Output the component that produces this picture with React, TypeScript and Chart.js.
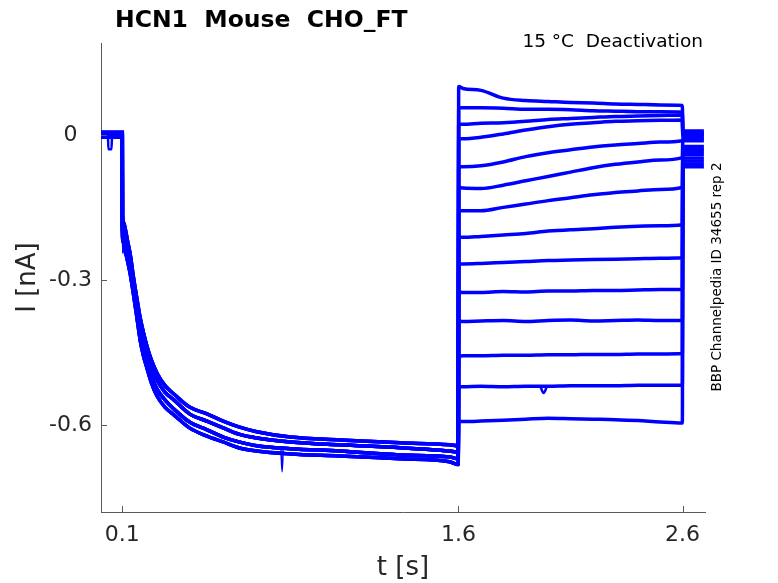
import { useEffect, useRef } from "react";
import {
  Chart,
  LineController,
  LineElement,
  PointElement,
  LinearScale,
  type ChartConfiguration,
  type Plugin,
} from "chart.js";

Chart.register(LineController, LineElement, PointElement, LinearScale);

const FONT = "'DejaVu Sans', sans-serif";
const INK = "#262626";
const AXIS = "#5a5a5a";
const BLUE = "#0000ff";

const TITLE = "HCN1  Mouse  CHO_FT";
const NOTE = "15 °C  Deactivation";
const SIDE = "BBP Channelpedia ID 34655 rep 2";

const xTicks = [0.1, 1.6, 2.6];
const yTicks = [0, -0.3, -0.6];

// holding current before the step (one value per sweep)
const holdT = [0.005, 0.1];
const holdI = [0.006, 0.004, 0.002, 0.0, -0.002, -0.004, 0.005, 0.003, 0.001, -0.001, -0.003, -0.005, 0.004, 0.0];

// activation phase, read as four curves across the band of sweeps
const actT = [0.1005, 0.106, 0.113, 0.125, 0.136, 0.15, 0.165, 0.18, 0.195, 0.21, 0.23, 0.255, 0.29, 0.33, 0.4, 0.478, 0.55, 0.62, 0.7, 0.85, 1.07, 1.34, 1.56, 1.599];
const actA = [-0.167, -0.181, -0.194, -0.223, -0.249, -0.295, -0.338, -0.379, -0.41, -0.437, -0.466, -0.493, -0.518, -0.536, -0.563, -0.577, -0.592, -0.604, -0.614, -0.625, -0.631, -0.637, -0.641, -0.643];
const actB = [-0.181, -0.194, -0.206, -0.233, -0.258, -0.303, -0.348, -0.392, -0.423, -0.449, -0.48, -0.507, -0.532, -0.548, -0.577, -0.592, -0.606, -0.619, -0.627, -0.635, -0.641, -0.647, -0.654, -0.656];
const actC = [-0.194, -0.21, -0.223, -0.249, -0.274, -0.318, -0.365, -0.41, -0.441, -0.468, -0.499, -0.526, -0.548, -0.567, -0.594, -0.61, -0.625, -0.635, -0.643, -0.649, -0.654, -0.662, -0.666, -0.67];
const actD = [-0.208, -0.223, -0.239, -0.264, -0.289, -0.33, -0.377, -0.425, -0.458, -0.482, -0.513, -0.54, -0.563, -0.579, -0.606, -0.623, -0.635, -0.647, -0.654, -0.66, -0.664, -0.67, -0.676, -0.682];
const traceAct = ["A", "B", "C", "D", "B", "C", "A", "D", "C", "B", "D", "A", "C", "B"];

// tail currents after the step at 1.6 s
const tailT = [1.601, 1.62, 1.7, 1.8, 1.9, 2.0, 2.1, 2.2, 2.3, 2.4, 2.5, 2.599];
const tail1 = [0.1, 0.096, 0.092, 0.076, 0.071, 0.069, 0.067, 0.066, 0.064, 0.063, 0.062, 0.061];
const tail2 = [0.056, 0.056, 0.056, 0.055, 0.053, 0.053, 0.052, 0.05, 0.049, 0.048, 0.048, 0.047];
const tail3 = [0.022, 0.022, 0.024, 0.025, 0.028, 0.032, 0.034, 0.036, 0.038, 0.039, 0.04, 0.041];
const tail4 = [-0.008, -0.008, -0.005, 0.002, 0.01, 0.017, 0.022, 0.025, 0.028, 0.029, 0.03, 0.031];
const tail5 = [-0.066, -0.066, -0.064, -0.056, -0.045, -0.037, -0.031, -0.025, -0.021, -0.018, -0.015, -0.012];
const tail6 = [-0.109, -0.11, -0.111, -0.104, -0.095, -0.086, -0.077, -0.068, -0.061, -0.056, -0.052, -0.047];
const tail7 = [-0.157, -0.157, -0.157, -0.15, -0.143, -0.136, -0.13, -0.124, -0.119, -0.116, -0.113, -0.109];
const tail8 = [-0.212, -0.212, -0.21, -0.207, -0.204, -0.199, -0.196, -0.194, -0.191, -0.189, -0.188, -0.186];
const tail9 = [-0.267, -0.267, -0.266, -0.264, -0.262, -0.26, -0.259, -0.258, -0.257, -0.256, -0.255, -0.254];
const tail10 = [-0.325, -0.326, -0.326, -0.324, -0.325, -0.323, -0.323, -0.322, -0.322, -0.321, -0.32, -0.32];
const tail11 = [-0.385, -0.386, -0.385, -0.384, -0.386, -0.384, -0.383, -0.385, -0.384, -0.383, -0.384, -0.384];
const tail12 = [-0.458, -0.457, -0.457, -0.456, -0.456, -0.455, -0.455, -0.454, -0.454, -0.453, -0.453, -0.452];
const tail13 = [-0.521, -0.521, -0.52, -0.521, -0.52, -0.52, -0.519, -0.519, -0.519, -0.518, -0.518, -0.518];
const tail14 = [-0.593, -0.593, -0.592, -0.59, -0.588, -0.586, -0.587, -0.588, -0.589, -0.591, -0.594, -0.596];

// back to holding after 2.6 s
const postT = [2.601, 2.695];
const postI = [0.008, 0.004, 0.0, -0.004, -0.008, -0.012, -0.024, -0.03, -0.034, -0.04, -0.048, -0.054, -0.06, -0.066];

// single glitches seen in the recording
const holdDipT = [0.036, 0.038, 0.052, 0.054];
const holdDipI = [0.0, -0.03, -0.03, 0.0];
const stepSpikeT = [0.1015, 0.103, 0.1045];
const stepSpikeI = [-0.19, -0.245, -0.2];
const actSpikeT = [0.808, 0.813, 0.818];
const actSpikeI = [-0.652, -0.697, -0.652];
const tailDipT = [1.965, 1.98, 1.995];
const tailDipI = [-0.52, -0.534, -0.52];

const acts: Record<string, number[]> = { A: actA, B: actB, C: actC, D: actD };
const tails = [tail1, tail2, tail3, tail4, tail5, tail6, tail7, tail8, tail9, tail10, tail11, tail12, tail13, tail14];

const zip = (ts: number[], vs: number[]) => ts.map((t, i) => ({ x: t, y: vs[i] }));

function sweep(k: number) {
  return [
    ...holdT.map((t) => ({ x: t, y: holdI[k] })),
    ...zip(actT, acts[traceAct[k]]),
    ...zip(tailT, tails[k]),
    ...postT.map((t) => ({ x: t, y: postI[k] })),
  ];
}

const decor: Plugin<"line"> = {
  id: "decor",
  afterDraw(chart) {
    const { ctx, chartArea: a } = chart;
    const xs = chart.scales.x;
    const ys = chart.scales.y;
    ctx.save();
    // tick marks point inward
    ctx.strokeStyle = AXIS;
    ctx.lineWidth = 1;
    ctx.beginPath();
    xTicks.forEach((v) => {
      const px = Math.round(xs.getPixelForValue(v)) + 0.5;
      ctx.moveTo(px, a.bottom);
      ctx.lineTo(px, a.bottom - 6);
    });
    yTicks.forEach((v) => {
      const py = Math.round(ys.getPixelForValue(v)) + 0.5;
      ctx.moveTo(a.left, py);
      ctx.lineTo(a.left + 6, py);
    });
    ctx.stroke();

    ctx.fillStyle = "#000";
    ctx.textBaseline = "alphabetic";
    ctx.font = `bold 23.5px ${FONT}`;
    ctx.textAlign = "left";
    ctx.fillText(TITLE, 115, 27);

    ctx.font = `18.5px ${FONT}`;
    ctx.textAlign = "right";
    ctx.fillText(NOTE, 703, 47);

    ctx.fillStyle = INK;
    ctx.font = `26px ${FONT}`;
    ctx.textAlign = "center";
    ctx.fillText("t [s]", (a.left + a.right) / 2, 575);

    ctx.save();
    ctx.translate(35, (a.top + a.bottom) / 2);
    ctx.rotate(-Math.PI / 2);
    ctx.fillText("I [nA]", 0, 0);
    ctx.restore();

    ctx.fillStyle = "#000";
    ctx.font = `13.5px ${FONT}`;
    ctx.save();
    ctx.translate(721, 277);
    ctx.rotate(-Math.PI / 2);
    ctx.fillText(SIDE, 0, 0);
    ctx.restore();

    ctx.restore();
  },
};

export default function App() {
  const canvasRef = useRef<HTMLCanvasElement>(null);
  const chartRef = useRef<Chart | null>(null);

  useEffect(() => {
    if (!canvasRef.current) return;
    const line = {
      borderColor: BLUE,
      borderWidth: 3.5,
      pointRadius: 0,
      cubicInterpolationMode: "monotone" as const,
      fill: false,
    };
    const datasets = [
      ...tails.map((_, k) => ({ ...line, data: sweep(k) })),
      { ...line, borderWidth: 2.5, data: zip(holdDipT, holdDipI) },
      { ...line, borderWidth: 2, data: zip(stepSpikeT, stepSpikeI) },
      { ...line, borderWidth: 1.5, data: zip(actSpikeT, actSpikeI) },
      { ...line, borderWidth: 2.5, data: zip(tailDipT, tailDipI) },
    ];
    const cfg: ChartConfiguration<"line"> = {
      type: "line",
      data: { datasets },
      options: {
        animation: false,
        responsive: false,
        devicePixelRatio: 1,
        layout: { padding: { top: 43, right: 73, left: 0, bottom: 0 } },
        plugins: { legend: { display: false }, tooltip: { enabled: false } },
        scales: {
          x: {
            type: "linear",
            position: "bottom",
            min: 0.005,
            max: 2.7,
            afterBuildTicks: (s) => {
              s.ticks = xTicks.map((v) => ({ value: v }));
            },
            afterFit: (s) => {
              s.height = 71;
            },
            grid: { display: false, drawTicks: false },
            border: { display: true, color: AXIS, width: 1 },
            ticks: {
              color: INK,
              padding: 10,
              maxRotation: 0,
              font: { family: FONT, size: 22 },
              callback: (v) => String(v),
            },
          },
          y: {
            type: "linear",
            position: "left",
            min: -0.78,
            max: 0.19,
            afterBuildTicks: (s) => {
              s.ticks = yTicks.map((v) => ({ value: v }));
            },
            afterFit: (s) => {
              s.width = 101;
            },
            grid: { display: false, drawTicks: false },
            border: { display: true, color: AXIS, width: 1 },
            ticks: {
              color: INK,
              padding: 9,
              crossAlign: "center",
              font: { family: FONT, size: 22 },
              callback: (v) => String(v),
            },
          },
        },
      },
      plugins: [decor],
    };
    chartRef.current = new Chart(canvasRef.current, cfg);
    return () => {
      chartRef.current?.destroy();
      chartRef.current = null;
    };
  }, []);

  return (
    <div style={{ position: "absolute", left: 0, top: 0, width: 778, height: 583, background: "#fff" }}>
      <canvas ref={canvasRef} width={778} height={583} style={{ width: 778, height: 583 }} />
    </div>
  );
}
